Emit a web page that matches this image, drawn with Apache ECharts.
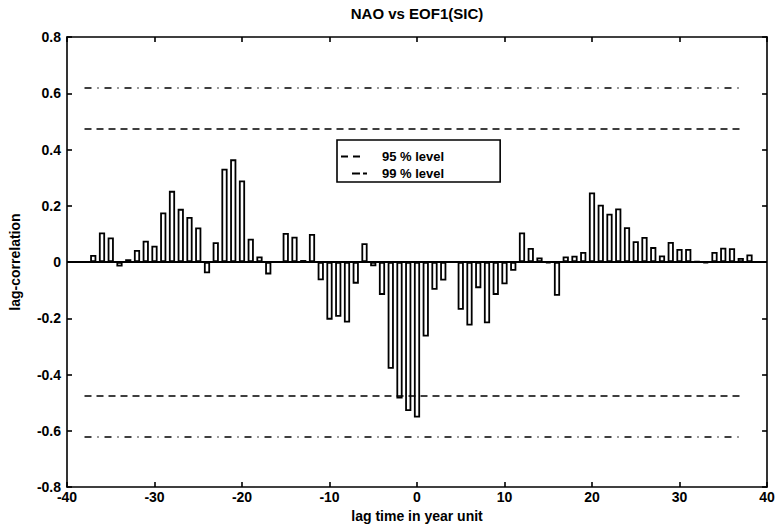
<!DOCTYPE html>
<html>
<head>
<meta charset="utf-8">
<script src="https://cdn.jsdelivr.net/npm/echarts@6/dist/echarts.min.js"></script>
<style>
  html, body { margin: 0; padding: 0; background: #fff; }
  #chart { width: 783px; height: 528px; }
</style>
</head>
<body>
<div id="chart"></div>
<script>
// Lag (years) and lagged correlation between the NAO index and EOF1 of sea-ice concentration
const lags = [
  -38, -37, -36, -35, -34, -33, -32, -31, -30, -29, -28, -27, -26, -25, -24, -23, -22, -21, -20,
  -19, -18, -17, -16, -15, -14, -13, -12, -11, -10, -9, -8, -7, -6, -5, -4, -3, -2, -1, 0,
  1, 2, 3, 4, 5, 6, 7, 8, 9, 10, 11, 12, 13, 14, 15, 16, 17, 18, 19, 20,
  21, 22, 23, 24, 25, 26, 27, 28, 29, 30, 31, 32, 33, 34, 35, 36, 37, 38
];
const corr = [
  0.000, 0.025, 0.105, 0.087, -0.016, 0.010, 0.043, 0.076, 0.058, 0.176, 0.253, 0.189, 0.160, 0.123, -0.040, 0.070, 0.332, 0.365, 0.290,
  0.083, 0.020, -0.044, 0.000, 0.103, 0.090, 0.007, 0.100, -0.065, -0.205, -0.195, -0.215, -0.077, 0.067, -0.015, -0.117, -0.380, -0.485, -0.530, -0.553,
  -0.265, -0.099, -0.066, 0.000, -0.170, -0.226, -0.093, -0.218, -0.117, -0.079, -0.031, 0.105, 0.050, 0.016, -0.005, -0.120, 0.020, 0.022, 0.036, 0.247,
  0.204, 0.172, 0.190, 0.124, 0.074, 0.089, 0.053, 0.023, 0.071, 0.046, 0.046, 0.002, -0.004, 0.036, 0.051, 0.049, 0.014, 0.027
];

// Significance levels and the lag range they are drawn over
const levelNames = ['95 % level', '99 % level'];
const levelValues = [0.475, 0.62];
const levelSpan = [-38, 37];

// Axis ranges and tick steps
const xRange = [-40, 40], xStep = 10;
const yRange = [-0.8, 0.8], yStep = 0.2;

const titleText = 'NAO vs EOF1(SIC)';
const xName = 'lag time in year unit';
const yName = 'lag-correlation';

const FONT = "'Liberation Sans', Arial, Helvetica, sans-serif";
const INK = '#000';

const grid = { left: 67, right: 16, top: 37, bottom: 41 };
const plotCenterX = grid.left + (783 - grid.left - grid.right) / 2;

// centre the title over the plot area rather than the canvas
function textWidth(str, font) {
  const c = document.createElement('canvas').getContext('2d');
  c.font = font;
  return c.measureText(str).width;
}
const titleFont = { size: 15, weight: 'bold' };
const titleW = textWidth(titleText, titleFont.weight + ' ' + titleFont.size + 'px ' + FONT);

const barData = lags.map((l, i) => [l, corr[i]]);

function levelLines(v) {
  return [
    [{ coord: [levelSpan[0], v] }, { coord: [levelSpan[1], v] }],
    [{ coord: [levelSpan[0], -v] }, { coord: [levelSpan[1], -v] }]
  ];
}

const axisLineStyle = { color: INK, width: 1.6 };
const labelStyle = { color: INK, fontFamily: FONT, fontSize: 14, fontWeight: 'bold' };

const chart = echarts.init(document.getElementById('chart'), null, { renderer: 'svg' });

chart.setOption({
  backgroundColor: '#fff',
  animation: false,
  title: {
    text: titleText,
    left: plotCenterX - titleW / 2 - 5,
    top: 1,
    textStyle: { color: INK, fontFamily: FONT, fontSize: titleFont.size, fontWeight: titleFont.weight }
  },
  legend: {
    orient: 'vertical',
    left: 337,
    top: 140,
    padding: [10, 56, 2, 4],
    itemWidth: 26,
    itemHeight: 14,
    itemGap: 4,
    borderColor: INK,
    borderWidth: 1.6,
    backgroundColor: '#fff',
    itemStyle: { borderWidth: 0 },
    textStyle: { color: INK, fontFamily: FONT, fontSize: 13, fontWeight: 'bold', padding: [0, 0, 0, 10] },
    data: [
      { name: levelNames[0], icon: 'path://M0,1h0M0,0h7v2h-7zM12,0h7v2h-7zM26,1h0' },
      { name: levelNames[1], icon: 'path://M0,1h0M11,0h8v2h-8zM22,0h4v2h-4zM26,1h0' }
    ]
  },
  grid: Object.assign({ containLabel: false }, grid),
  xAxis: [
    {
      type: 'value', position: 'bottom',
      min: xRange[0], max: xRange[1], interval: xStep,
      name: xName, nameLocation: 'middle', nameGap: 19,
      nameTextStyle: labelStyle,
      axisLine: { show: true, onZero: false, lineStyle: axisLineStyle },
      axisTick: { show: true, inside: true, length: 5, lineStyle: axisLineStyle },
      axisLabel: Object.assign({ margin: 3 }, labelStyle),
      splitLine: { show: false }
    },
    {
      type: 'value', position: 'top',
      min: xRange[0], max: xRange[1], interval: xStep,
      axisLine: { show: true, onZero: false, lineStyle: axisLineStyle },
      axisTick: { show: true, inside: true, length: 5, lineStyle: axisLineStyle },
      axisLabel: { show: false },
      splitLine: { show: false }
    }
  ],
  yAxis: [
    {
      type: 'value', position: 'left',
      min: yRange[0], max: yRange[1], interval: yStep,
      name: yName, nameLocation: 'middle', nameGap: 45, nameRotate: 90,
      nameTextStyle: labelStyle,
      axisLine: { show: true, onZero: false, lineStyle: axisLineStyle },
      axisTick: { show: true, inside: true, length: 5, lineStyle: axisLineStyle },
      axisLabel: Object.assign({
        margin: 6,
        formatter: v => String(Math.round(v * 10) / 10)
      }, labelStyle),
      splitLine: { show: false }
    },
    {
      type: 'value', position: 'right',
      min: yRange[0], max: yRange[1], interval: yStep,
      axisLine: { show: true, onZero: false, lineStyle: axisLineStyle },
      axisTick: { show: true, inside: true, length: 5, lineStyle: axisLineStyle },
      axisLabel: { show: false },
      splitLine: { show: false }
    }
  ],
  series: [
    {
      type: 'bar',
      name: 'lag-correlation',
      xAxisIndex: 0, yAxisIndex: 0,
      data: barData,
      barWidth: 6.2,
      itemStyle: { color: '#fff', borderColor: INK, borderWidth: 1.8 },
      markLine: {
        silent: true, symbol: 'none', label: { show: false },
        lineStyle: { color: INK, width: 2, type: 'solid' },
        data: [{ yAxis: 0 }]
      },
      z: 2
    },
    {
      type: 'line',
      name: levelNames[0],
      data: [],
      itemStyle: { color: INK },
      lineStyle: { color: INK },
      markLine: {
        silent: true, symbol: 'none', label: { show: false },
        lineStyle: { color: INK, width: 1.6, type: [7, 5] },
        data: levelLines(levelValues[0])
      },
      z: 3
    },
    {
      type: 'line',
      name: levelNames[1],
      data: [],
      itemStyle: { color: INK },
      lineStyle: { color: INK },
      markLine: {
        silent: true, symbol: 'none', label: { show: false },
        lineStyle: { color: INK, width: 1.6, type: [7, 6, 1, 6] },
        data: levelLines(levelValues[1])
      },
      z: 3
    }
  ]
});
</script>
</body>
</html>
